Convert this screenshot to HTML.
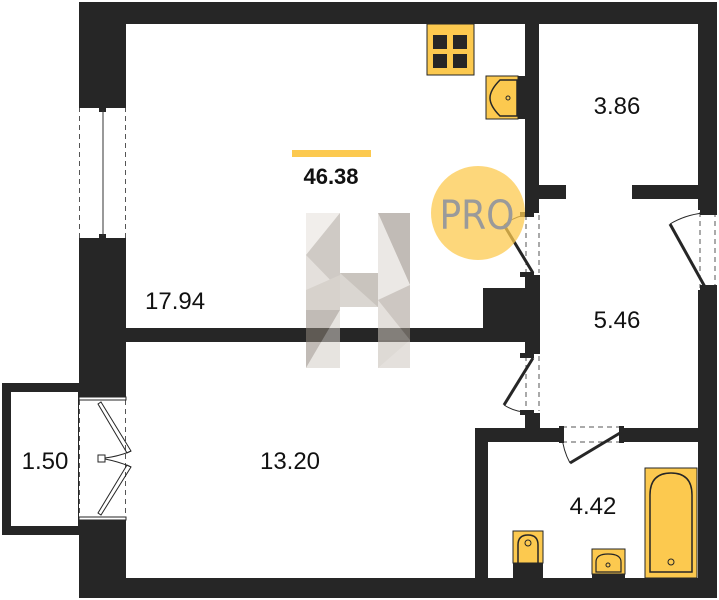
<!DOCTYPE html>
<html><head><meta charset="utf-8"><style>
html,body{margin:0;padding:0;background:#fff;}
svg{display:block;}
text{font-family:"Liberation Sans",sans-serif;}
</style></head><body>
<svg width="719" height="600" viewBox="0 0 719 600" xmlns="http://www.w3.org/2000/svg">
<g fill="#262626">
<rect x="79" y="2" width="638" height="22"/>
<rect x="79" y="2" width="47" height="103"/>
<rect x="79" y="240" width="47" height="158"/>
<rect x="79" y="518" width="47" height="80"/>
<rect x="79" y="578" width="638" height="20"/>
<rect x="698" y="2" width="19" height="208"/>
<rect x="698" y="290" width="19" height="308"/>
<rect x="525" y="24" width="14" height="189"/>
<rect x="525" y="275" width="15" height="79"/>
<rect x="525" y="413" width="15" height="29"/>
<rect x="539" y="185" width="27" height="14"/>
<rect x="632" y="185" width="66" height="14"/>
<rect x="126" y="328" width="414" height="14"/>
<rect x="483" y="288" width="57" height="54"/>
<rect x="475" y="428" width="85" height="14"/>
<rect x="622" y="428" width="76" height="14"/>
<rect x="475" y="428" width="13" height="150"/>
</g>
<rect x="6.5" y="387.5" width="76" height="143" fill="none" stroke="#262626" stroke-width="9"/>
<rect x="79" y="398" width="47" height="120" fill="#fff"/>
<g stroke="#555" stroke-width="1" stroke-dasharray="5,4" fill="none">
<line x1="79.5" y1="107" x2="79.5" y2="238"/><line x1="125.5" y1="107" x2="125.5" y2="238"/>
<line x1="79.5" y1="400" x2="79.5" y2="516"/><line x1="125.5" y1="400" x2="125.5" y2="516"/>
<line x1="526" y1="215" x2="526" y2="273"/><line x1="539" y1="215" x2="539" y2="273"/>
<line x1="526" y1="356" x2="526" y2="411"/><line x1="539" y1="356" x2="539" y2="411"/>
<line x1="700" y1="212" x2="700" y2="288"/><line x1="715" y1="212" x2="715" y2="288"/>
<line x1="562" y1="427" x2="620" y2="427"/><line x1="562" y1="442" x2="620" y2="442"/>
</g>
<rect x="79" y="104" width="47" height="4" fill="#262626"/><rect x="79" y="238" width="47" height="4" fill="#262626"/>
<rect x="99" y="107" width="7" height="5" fill="#262626"/><rect x="99" y="234" width="7" height="5" fill="#262626"/>
<line x1="103" y1="110" x2="103" y2="236" stroke="#333" stroke-width="1"/>
<rect x="79" y="397" width="47" height="3" fill="#fff" stroke="#262626" stroke-width="1"/>
<rect x="79" y="517" width="47" height="3" fill="#fff" stroke="#262626" stroke-width="1"/>
<g stroke="#262626" stroke-width="1" fill="none">
<path d="M101 402 L131 451 L127 453 L98 404Z"/>
<path d="M101 515 L131 467 L127 465 L98 513Z"/>
<rect x="98" y="455" width="7" height="7" fill="#fff"/>
<path d="M105 458 Q120 456 131 451 M105 459 Q120 462 131 467"/>
</g>
<g fill="#262626">
<rect x="520" y="212" width="14" height="5"/><rect x="520" y="272" width="14" height="5"/>
<rect x="520" y="353" width="14" height="5"/><rect x="520" y="410" width="14" height="5"/>
<rect x="700" y="210" width="17" height="5"/><rect x="700" y="285" width="17" height="5"/>
<rect x="559" y="426" width="5" height="17"/><rect x="619" y="426" width="5" height="17"/>
</g>
<g stroke="#262626" stroke-width="3" fill="none">
<line x1="504" y1="225" x2="533" y2="273"/>
<line x1="533" y1="358" x2="504" y2="405"/>
<line x1="670" y1="224" x2="705" y2="287"/>
<line x1="620" y1="433" x2="570" y2="463"/>
</g>
<g stroke="#262626" stroke-width="1" fill="none">
<path d="M504 225 Q515 216 527 215"/>
<path d="M504 405 Q515 412 527 412"/>
<path d="M670 224 Q685 215 703 213"/>
<path d="M570 463 Q563 450 562 436"/>
</g>
<circle cx="478" cy="213" r="47" fill="#fcc94f" opacity="0.75"/>
<text x="477" y="229" text-anchor="middle" font-size="40" fill="#9a9a9a" style="font-family:'DejaVu Sans Condensed','Liberation Sans',sans-serif">PRO</text>
<rect x="427" y="24" width="47" height="51" fill="#fcc94f" stroke="#262626" stroke-width="1"/>
<rect x="433" y="35" width="14" height="14" fill="#262626"/><rect x="453" y="35" width="14" height="14" fill="#262626"/>
<rect x="433" y="54" width="14" height="14" fill="#262626"/><rect x="453" y="54" width="14" height="14" fill="#262626"/>
<rect x="486" y="76" width="32" height="43" fill="#fcc94f" stroke="#262626" stroke-width="1"/>
<rect x="518" y="76" width="7" height="43" fill="#262626"/>
<path d="M517 80 L500 80 Q490 90 490 98 Q490 106 500 116 L517 116Z" fill="none" stroke="#262626" stroke-width="1.5"/>
<circle cx="508" cy="98" r="2" fill="none" stroke="#262626"/>
<rect x="645" y="468" width="52" height="110" fill="#fcc94f" stroke="#262626" stroke-width="1"/>
<path d="M650 572 L650 495 Q650 473 671 473 Q692 473 692 495 L692 572Z" fill="none" stroke="#262626" stroke-width="1.5"/>
<circle cx="671" cy="562" r="3" fill="none" stroke="#262626"/>
<rect x="513" y="531" width="30" height="32" fill="#fcc94f" stroke="#262626" stroke-width="1"/>
<rect x="513" y="563" width="30" height="15" fill="#262626"/>
<path d="M518 563 L518 545 Q518 535 528 535 Q538 535 538 545 L538 563" fill="none" stroke="#262626" stroke-width="1.5"/>
<circle cx="528" cy="543" r="3" fill="none" stroke="#262626"/>
<rect x="592" y="549" width="33" height="25" fill="#fcc94f" stroke="#262626" stroke-width="1"/>
<rect x="592" y="574" width="33" height="4" fill="#262626"/>
<path d="M596 572 L596 562 Q596 554 608 554 Q621 554 621 562 L621 572Z" fill="none" stroke="#262626" stroke-width="1.2"/>
<circle cx="608" cy="565" r="2" fill="none" stroke="#262626"/>
<g opacity="0.55">
<rect x="306" y="213" width="34" height="155" fill="#cfc8c0"/>
<rect x="378" y="213" width="32" height="155" fill="#cfc8c0"/>
<rect x="340" y="273" width="38" height="34" fill="#bdb5ac"/>
<polygon points="306,213 340,213 306,255" fill="#e6e1db"/>
<polygon points="306,255 340,213 340,290" fill="#a9a097"/>
<polygon points="306,290 340,275 340,310 306,310" fill="#b8aea4"/>
<polygon points="306,310 340,310 306,368" fill="#8f857b"/>
<polygon points="340,310 306,368 340,368" fill="#d4cec8"/>
<polygon points="378,213 410,213 410,285" fill="#8f857b"/>
<polygon points="378,213 410,285 378,300" fill="#dcd6d0"/>
<polygon points="378,300 410,285 410,340" fill="#a59b91"/>
<polygon points="378,340 410,340 378,368" fill="#c4bcb3"/>
<polygon points="340,273 378,273 378,307" fill="#9e948a"/>
</g>
<rect x="292" y="150" width="79" height="7" fill="#fcc94f"/>
<text x="331" y="184" text-anchor="middle" font-size="22" font-weight="bold" fill="#111">46.38</text>
<g font-size="24" fill="#111">
<text x="145" y="309">17.94</text>
<text x="617" y="114" text-anchor="middle">3.86</text>
<text x="617" y="328" text-anchor="middle">5.46</text>
<text x="290" y="469" text-anchor="middle">13.20</text>
<text x="45" y="469" text-anchor="middle">1.50</text>
<text x="593" y="514" text-anchor="middle">4.42</text>
</g>
</svg>
</body></html>
